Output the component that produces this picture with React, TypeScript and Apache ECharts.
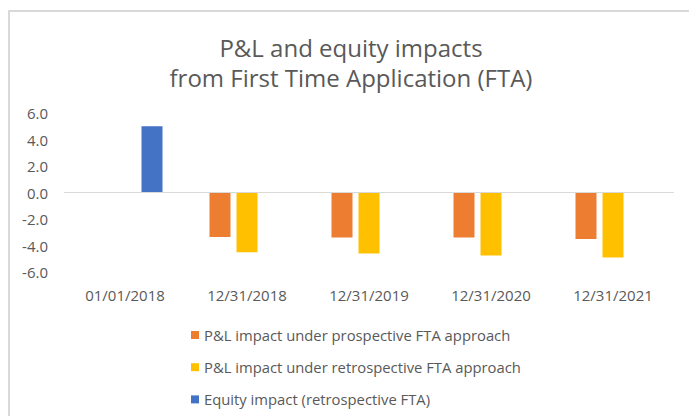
import React, { useEffect, useRef } from "react";
import * as echarts from "echarts";

const categories = ["01/01/2018", "12/31/2018", "12/31/2019", "12/31/2020", "12/31/2021"];
const prospectiveValues = [null, -3.35, -3.4, -3.4, -3.5];
const retrospectiveValues = [null, -4.5, -4.6, -4.75, -4.9];
const equityValues = [5.0, null, null, null, null];
const seriesNames = [
  "P&L impact under prospective FTA approach",
  "P&L impact under retrospective FTA approach",
  "Equity impact (retrospective FTA)",
];
const titleLines = ["P&L and equity impacts", "from First Time Application (FTA)"];

const FONT = "'Open Sans', sans-serif";
const GRAY = "#595959";

export default function App() {
  const ref = useRef<HTMLDivElement>(null);
  useEffect(() => {
    if (!ref.current) return;
    const chart = echarts.init(ref.current, undefined, { renderer: "svg" });
    const barCommon = { type: "bar" as const, barWidth: 21, barGap: "28.6%" };
    chart.setOption({
      animation: false,
      backgroundColor: "#ffffff",
      textStyle: { fontFamily: FONT },
      graphic: [
        {
          type: "rect",
          shape: { x: 9, y: 11, width: 700, height: 420 },
          style: { fill: "none", stroke: "#d9d9d9", lineWidth: 2 },
          silent: true,
        },
        {
          type: "text",
          x: 351,
          y: 62,
          style: {
            text: titleLines.join("\n"),
            align: "center",
            verticalAlign: "middle",
            fill: GRAY,
            fontFamily: FONT,
            fontSize: 24,
            lineHeight: 30,
          },
        },
      ],
      grid: { left: 64, right: 15, top: 113, bottom: 144 },
      legend: {
        orient: "vertical",
        left: 186,
        top: 322,
        itemWidth: 8,
        itemHeight: 8,
        itemGap: 16.2,
        icon: "rect",
        data: seriesNames,
        textStyle: { color: GRAY, fontFamily: FONT, fontSize: 14.8, lineHeight: 16 },
      },
      xAxis: {
        type: "category",
        data: categories,
        axisLine: { show: false },
        axisTick: { show: false },
        axisLabel: { color: GRAY, fontFamily: FONT, fontSize: 15, margin: 15 },
      },
      yAxis: {
        type: "value",
        min: -6,
        max: 6,
        interval: 2,
        axisLine: { show: false },
        axisTick: { show: false },
        splitLine: { show: false },
        axisLabel: {
          color: GRAY,
          fontFamily: FONT,
          fontSize: 15,
          margin: 16,
          formatter: (v: number) => v.toFixed(1),
        },
      },
      series: [
        {
          ...barCommon,
          name: seriesNames[0],
          data: prospectiveValues,
          itemStyle: { color: "#ED7D31" },
          markLine: {
            silent: true,
            symbol: "none",
            label: { show: false },
            lineStyle: { color: "#d9d9d9", type: "solid", width: 1 },
            data: [{ yAxis: 0 }],
          },
        },
        { ...barCommon, name: seriesNames[1], data: retrospectiveValues, itemStyle: { color: "#FFC000" } },
        { ...barCommon, name: seriesNames[2], data: equityValues, itemStyle: { color: "#4472C4" } },
      ],
    });
    return () => chart.dispose();
  }, []);
  return (
    <div
      ref={ref}
      style={{ position: "fixed", left: 0, top: 0, width: 689, height: 416 }}
    />
  );
}
